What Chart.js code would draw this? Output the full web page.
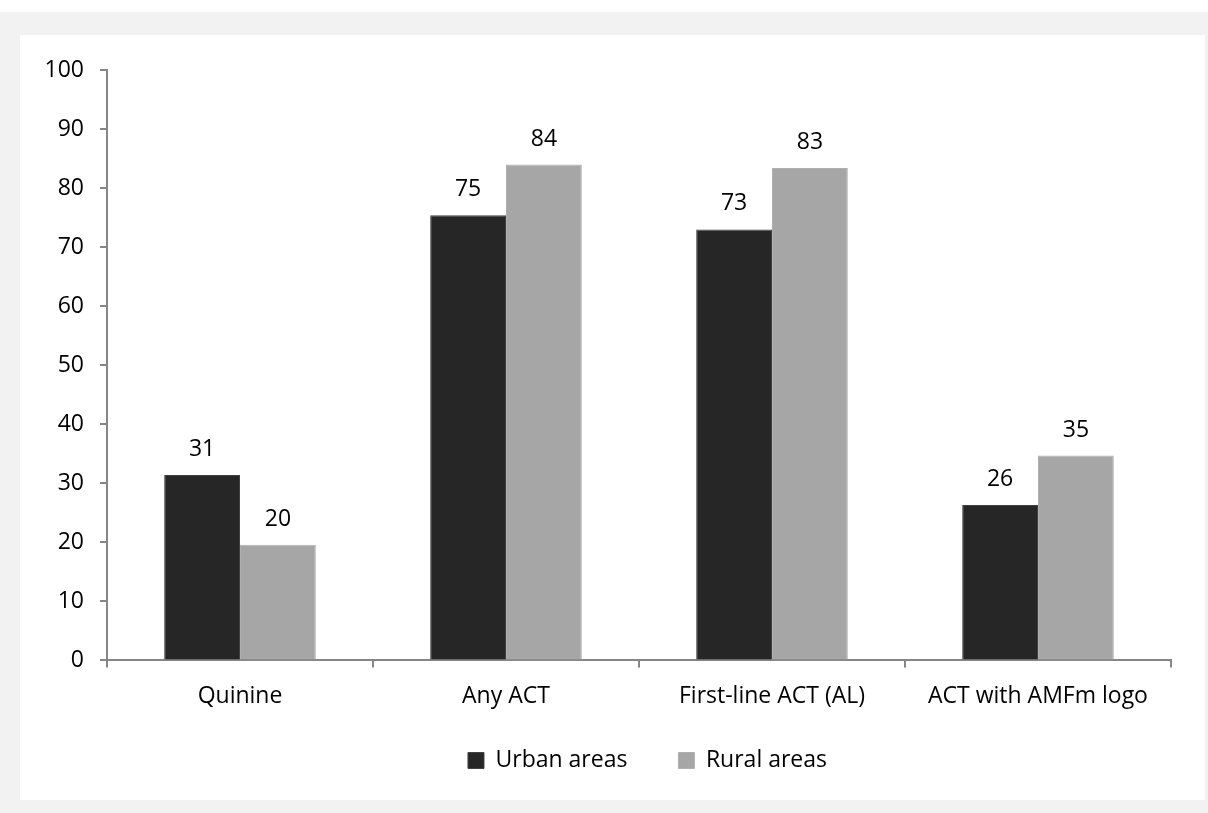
<!DOCTYPE html>
<html>
<head>
<meta charset="utf-8">
<script src="https://cdn.jsdelivr.net/npm/chart.js@4"></script>
<style>
  html, body { margin: 0; padding: 0; background: #ffffff; }
  #frame {
    position: absolute; left: 0; top: 12px; width: 1208px; height: 801px;
    background: #f2f2f2;
  }
  #panel {
    position: absolute; left: 20px; top: 23px; width: 1185px; height: 765px;
    background: #ffffff;
  }
</style>
</head>
<body>
<div id="frame">
  <div id="panel"><canvas id="chart" width="1185" height="765"></canvas></div>
</div>
<script>
// --- data ---
const categories = ["Quinine", "Any ACT", "First-line ACT (AL)", "ACT with AMFm logo"];
const urbanValues = [31.4, 75.4, 73.0, 26.3];
const ruralValues = [19.6, 84.0, 83.4, 34.7];
const seriesNames = ["Urban areas", "Rural areas"];
const yTicks = [0, 10, 20, 30, 40, 50, 60, 70, 80, 90, 100];

const font = "'Open Sans', 'Noto Sans', sans-serif";
const fontSize = 23;
const axisColor = "#868686";

// value labels above each bar
const valueLabels = {
  id: "valueLabels",
  afterDatasetsDraw(chart) {
    const ctx = chart.ctx;
    ctx.save();
    ctx.font = fontSize + "px " + font;
    ctx.fillStyle = "#000";
    ctx.textAlign = "center";
    ctx.textBaseline = "bottom";
    chart.data.datasets.forEach((ds, i) => {
      chart.getDatasetMeta(i).data.forEach((bar, j) => {
        ctx.fillText(Math.round(ds.data[j]), bar.x, bar.y - 14);
      });
    });
    ctx.restore();
  }
};

// move the legend up under the axis labels and centre it on the plot
// (labels.padding also sets the gap between items, so it can't do this)
const legendShift = {
  id: "legendShift",
  afterLayout(chart) {
    const l = chart.legend;
    l.top -= 27;
    l.bottom -= 27;
    l.left += 52;
    l.right += 52;
  }
};

new Chart(document.getElementById("chart"), {
  type: "bar",
  data: {
    labels: categories,
    datasets: [
      { label: seriesNames[0], data: urbanValues, backgroundColor: "#262626",
        borderColor: "#404040", borderWidth: 1, categoryPercentage: 0.57, barPercentage: 1 },
      { label: seriesNames[1], data: ruralValues, backgroundColor: "#a6a6a6",
        borderColor: "#b0b0b0", borderWidth: 1, categoryPercentage: 0.57, barPercentage: 1 }
    ]
  },
  options: {
    responsive: false,
    animation: false,
    layout: { padding: { left: 0, right: 34, top: 35, bottom: -9 } },
    plugins: {
      tooltip: { enabled: false },
      legend: {
        position: "bottom",
        labels: {
          font: { family: font, size: fontSize },
          color: "#000",
          boxWidth: 16, boxHeight: 16,
          padding: 51
        }
      }
    },
    scales: {
      x: {
        grid: { drawOnChartArea: false, drawTicks: true, tickLength: 7, color: axisColor, lineWidth: 2 },
        border: { color: axisColor, width: 2 },
        ticks: { font: { family: font, size: fontSize }, color: "#000", padding: 15 }
      },
      y: {
        min: 0, max: 100,
        afterFit(scale) { scale.width = 87; },
        afterBuildTicks(scale) { scale.ticks = yTicks.map(v => ({ value: v })); },
        grid: { drawOnChartArea: false, drawTicks: true, tickLength: 7, color: axisColor, lineWidth: 2 },
        border: { color: axisColor, width: 2 },
        ticks: { font: { family: font, size: fontSize }, color: "#000", padding: 16 }
      }
    }
  },
  plugins: [valueLabels, legendShift]
});
</script>
</body>
</html>
